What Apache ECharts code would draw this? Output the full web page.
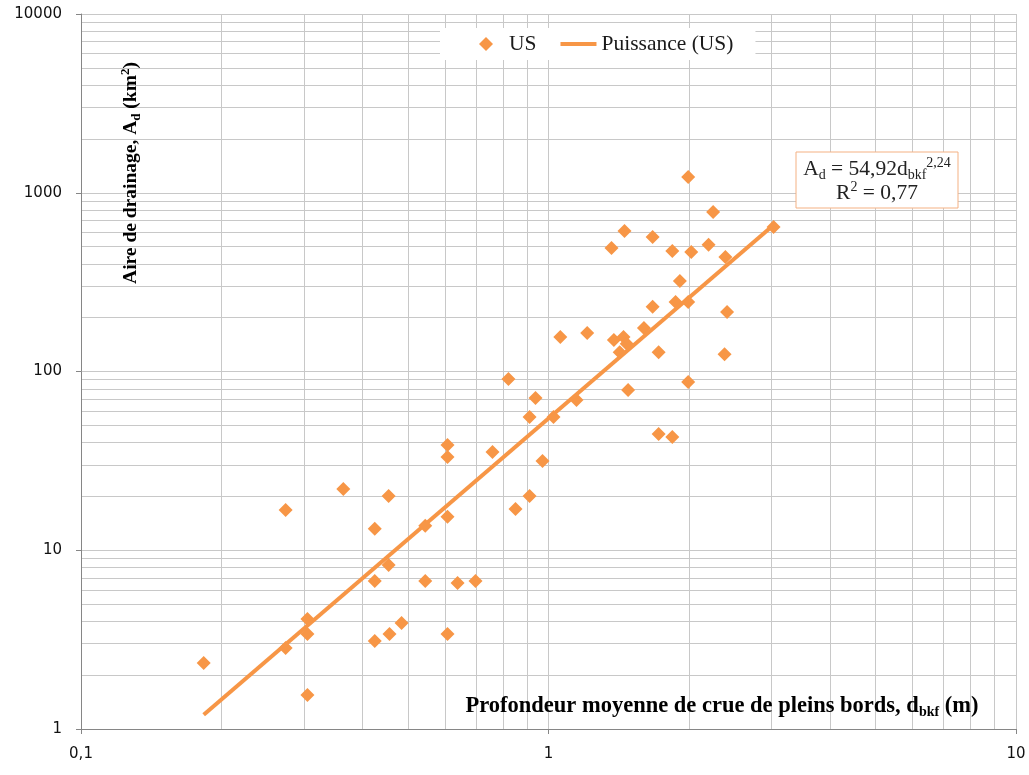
<!DOCTYPE html>
<html>
<head>
<meta charset="utf-8">
<script src="https://cdn.jsdelivr.net/npm/echarts@6/dist/echarts.min.js"></script>
<style>
  html, body { margin: 0; padding: 0; background: #fff; }
  #chart { width: 1029px; height: 775px; }
</style>
</head>
<body>
<div id="chart"></div>
<script>
// mesures US : profondeur moyenne (m) et aire de drainage (km2)
var usDepth = [0.183, 0.274, 0.274, 0.305, 0.305, 0.305, 0.364, 0.425, 0.425, 0.425,
               0.455, 0.455, 0.457, 0.485, 0.545, 0.545, 0.608, 0.608, 0.608, 0.608,
               0.639, 0.698, 0.759, 0.821, 0.850, 0.911, 0.911, 0.938, 0.971, 1.025,
               1.06, 1.148, 1.21, 1.364, 1.38, 1.42, 1.447, 1.454, 1.47, 1.48,
               1.60, 1.67, 1.67, 1.72, 1.72, 1.84, 1.84, 1.87, 1.91, 1.99,
               1.99, 1.99, 2.02, 2.20, 2.25, 2.38, 2.39, 2.41, 3.03];
var usArea = [2.34, 16.8, 2.84, 4.12, 3.40, 1.55, 22.0, 13.2, 6.73, 3.11,
              20.1, 8.27, 3.40, 3.92, 13.7, 6.73, 38.8, 33.2, 15.4, 3.40,
              6.56, 6.73, 35.5, 90.8, 17.0, 55.7, 20.1, 71.1, 31.6, 55.7,
              156, 69.3, 164, 491, 150, 128, 156, 611, 143, 78.8,
              175, 565, 230, 128, 44.7, 472, 43, 245, 321, 1225,
              245, 87.4, 466, 511, 780, 125, 437, 215, 643];

// extremites de la courbe de tendance
var trendDepth = [0.183, 3.03];
var trendArea = [1.2, 660];

// graduations secondaires
var xMinor = [0.2, 0.3, 0.4, 0.5, 0.6, 0.7, 0.8, 0.9, 2, 3, 4, 5, 6, 7, 8, 9];
var yMinor = [2, 3, 4, 5, 6, 7, 8, 9, 20, 30, 40, 50, 60, 70, 80, 90,
              200, 300, 400, 500, 600, 700, 800, 900, 2000, 3000, 4000, 5000, 6000, 7000, 8000, 9000];

var orange = '#f79646';
var gridColor = '#c8c8c8';
var serif = '"Liberation Serif", "DejaVu Serif", serif';

var chart = echarts.init(document.getElementById('chart'));

var usData = [];
for (var i = 0; i < usDepth.length; i++) {
	usData.push([usDepth[i], usArea[i]]);
}
var trendData = [];
for (var i = 0; i < trendDepth.length; i++) {
	trendData.push([trendDepth[i], trendArea[i]]);
}

var minorLines = [];
xMinor.forEach(function (v) { minorLines.push({ xAxis: v }); });
yMinor.forEach(function (v) { minorLines.push({ yAxis: v }); });

function commaFmt(v) {
	return String(v).replace('.', ',');
}

// icones de legende dans une boite 36x14 (les points d'angle fixent la boite)
var diamondIcon = 'path://M0,0L0,0M18,0L25,7L18,14L11,7ZM36,14L36,14';
var lineIcon = 'path://M0,0L0,0M0,5L36,5L36,9L0,9ZM36,14L36,14';

var option = {
	animation: false,
	backgroundColor: '#fff',
	grid: { left: 81, right: 13, top: 14, bottom: 46, containLabel: false },
	legend: {
		left: 440,
		top: 28,
		z: 20,
		padding: [5, 22, 5, 28],
		backgroundColor: '#fff',
		itemGap: 24,
		itemWidth: 36,
		itemHeight: 14,
		textStyle: { fontFamily: serif, fontSize: 21.5, color: '#1a1a1a' },
		data: [
			{ name: 'US', icon: diamondIcon },
			{ name: 'Puissance (US)', icon: lineIcon }
		]
	},
	xAxis: {
		type: 'log',
		logBase: 10,
		min: 0.1,
		max: 10,
		axisLine: { show: true, lineStyle: { color: '#868686', width: 1 } },
		axisTick: { show: true, length: 5, lineStyle: { color: '#868686' } },
		axisLabel: {
			margin: 18,
			fontFamily: '"DejaVu Sans", sans-serif',
			fontSize: 15,
			color: '#111',
			formatter: commaFmt
		},
		splitLine: { show: true, lineStyle: { color: gridColor, width: 1 } }
	},
	yAxis: {
		type: 'log',
		logBase: 10,
		min: 1,
		max: 10000,
		axisLine: { show: true, lineStyle: { color: '#868686', width: 1 } },
		axisTick: { show: true, length: 5, lineStyle: { color: '#868686' } },
		axisLabel: {
			margin: 19,
			fontFamily: '"DejaVu Sans", sans-serif',
			fontSize: 15,
			color: '#111',
			formatter: commaFmt
		},
		splitLine: { show: true, lineStyle: { color: gridColor, width: 1 } }
	},
	series: [
		{
			name: 'grille',
			type: 'line',
			data: [],
			z: 0,
			silent: true,
			markLine: {
				z: 0,
				silent: true,
				symbol: 'none',
				label: { show: false },
				animation: false,
				lineStyle: { color: gridColor, width: 1, type: 'solid' },
				data: minorLines
			}
		},
		{
			name: 'US',
			type: 'scatter',
			symbol: 'diamond',
			symbolSize: 14,
			itemStyle: { color: orange, opacity: 1 },
			data: usData,
			z: 3
		},
		{
			name: 'Puissance (US)',
			type: 'line',
			symbol: 'none',
			lineStyle: { color: orange, width: 4 },
			itemStyle: { color: orange },
			data: trendData,
			z: 4
		}
	],
	graphic: [
		{
			type: 'text',
			x: 131,
			y: 173,
			z: 20,
			rotation: Math.PI / 2,
			style: {
				text: '{b|Aire de drainage, A}{sub|d}{b| (km}{sup|2}{b|)}',
				textAlign: 'center',
				textVerticalAlign: 'middle',
				rich: {
					b: { fontFamily: serif, fontWeight: 'bold', fontSize: 19.5, lineHeight: 24, fill: '#000' },
					sub: { fontFamily: serif, fontWeight: 'bold', fontSize: 13, lineHeight: 16, verticalAlign: 'bottom', fill: '#000' },
					sup: { fontFamily: serif, fontWeight: 'bold', fontSize: 13, lineHeight: 16, verticalAlign: 'top', fill: '#000' }
				}
			}
		},
		{
			type: 'text',
			x: 722,
			y: 706,
			z: 20,
			style: {
				text: '{b|Profondeur moyenne de crue de pleins bords, d}{sub|bkf}{b| (m)}',
				textAlign: 'center',
				textVerticalAlign: 'middle',
				rich: {
					b: { fontFamily: serif, fontWeight: 'bold', fontSize: 22.5, lineHeight: 26, fill: '#000' },
					sub: { fontFamily: serif, fontWeight: 'bold', fontSize: 14, lineHeight: 17, verticalAlign: 'bottom', fill: '#000' }
				}
			}
		},
		{
			type: 'rect',
			x: 796,
			y: 152,
			z: 20,
			shape: { x: 0, y: 0, width: 162, height: 56 },
			style: { fill: '#fff', stroke: '#f4b183', lineWidth: 1 }
		},
		{
			type: 'text',
			x: 877,
			y: 169,
			z: 21,
			style: {
				text: '{t|A}{s|d}{t| = 54,92d}{s|bkf}{p|2,24}',
				textAlign: 'center',
				textVerticalAlign: 'middle',
				rich: {
					t: { fontFamily: serif, fontSize: 21.5, lineHeight: 26, fill: '#222' },
					s: { fontFamily: serif, fontSize: 14, lineHeight: 17, verticalAlign: 'bottom', fill: '#222' },
					p: { fontFamily: serif, fontSize: 14, lineHeight: 17, verticalAlign: 'top', fill: '#222' }
				}
			}
		},
		{
			type: 'text',
			x: 877,
			y: 193,
			z: 21,
			style: {
				text: '{t|R}{p|2}{t| = 0,77}',
				textAlign: 'center',
				textVerticalAlign: 'middle',
				rich: {
					t: { fontFamily: serif, fontSize: 21.5, lineHeight: 26, fill: '#222' },
					p: { fontFamily: serif, fontSize: 14, lineHeight: 17, verticalAlign: 'top', fill: '#222' }
				}
			}
		}
	]
};

chart.setOption(option);
</script>
</body>
</html>
